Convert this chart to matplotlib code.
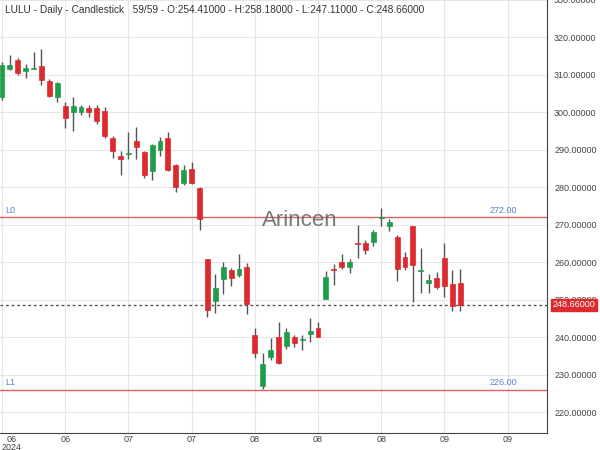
import numpy as np
import matplotlib.pyplot as plt
from matplotlib.patches import Rectangle

plt.rcParams['font.family'] = ['Liberation Sans', 'DejaVu Sans']

# daily OHLC (59 bars)
opens = [304.1, 311.7, 314.0, 311.0, 311.6, 312.4, 308.5, 304.2, 301.7, 300.0,
         300.1, 301.3, 301.2, 300.3, 293.1, 288.3, 288.8, 292.5, 289.4, 284.4,
         290.1, 293.3, 286.0, 281.3, 284.8, 279.8, 260.8, 249.7, 255.5, 257.9,
         256.7, 258.8, 240.5, 227.1, 234.8, 240.0, 237.6, 240.2, 239.2, 240.8,
         242.6, 250.3, 258.2, 260.1, 258.8, 265.2, 265.1, 265.4, 271.8, 269.8,
         266.9, 261.4, 269.7, 257.8, 254.5, 255.9, 261.2, 254.1, 254.41]
highs = [313.5, 315.3, 314.5, 313.0, 316.1, 316.8, 308.9, 308.0, 302.9, 304.1,
         302.1, 302.1, 302.1, 301.4, 293.6, 289.6, 294.9, 296.0, 289.6, 291.7,
         293.4, 294.9, 286.2, 286.0, 286.7, 280.0, 261.0, 256.8, 260.1, 258.6,
         262.1, 259.7, 242.6, 235.7, 239.8, 244.1, 242.6, 240.7, 240.7, 245.2,
         244.1, 257.8, 259.6, 262.3, 261.0, 270.1, 266.0, 268.6, 274.6, 271.7,
         267.3, 262.7, 269.8, 263.8, 256.8, 257.5, 265.1, 257.9, 258.18]
lows = [303.2, 311.3, 309.9, 309.1, 311.6, 307.4, 304.1, 302.8, 295.9, 295.1,
        299.3, 298.8, 296.8, 293.1, 287.9, 283.3, 287.7, 287.5, 282.4, 281.9,
        288.3, 284.4, 278.7, 280.7, 281.0, 268.6, 245.5, 246.6, 251.6, 253.8,
        256.0, 246.1, 234.5, 226.2, 233.9, 232.8, 237.0, 237.3, 236.7, 238.7,
        240.0, 250.3, 254.0, 258.1, 257.1, 261.2, 262.3, 264.3, 269.7, 268.4,
        255.1, 258.0, 249.4, 251.8, 251.8, 252.9, 250.7, 247.0, 247.11]
closes = [312.6, 312.7, 310.5, 311.8, 311.9, 308.7, 304.3, 307.8, 298.4, 301.7,
          301.4, 300.1, 297.7, 293.6, 289.6, 287.7, 289.0, 290.8, 283.3, 291.4,
          292.3, 284.6, 280.0, 284.6, 281.1, 271.7, 247.2, 253.1, 258.8, 255.8,
          258.3, 248.8, 235.7, 233.0, 236.5, 233.2, 241.3, 238.5, 239.4, 241.7,
          240.0, 256.1, 258.0, 258.8, 260.2, 265.0, 263.2, 268.0, 272.0, 270.8,
          258.3, 258.8, 259.4, 258.0, 255.3, 253.5, 253.6, 248.3, 248.66]

tick_labels = ["06\n2024", "06", "07", "07", "08", "08", "08", "09", "09"]
levels = [272.0, 226.0]
level_names = ["L0", "L1"]

GREEN = "#1f9e4a"
RED = "#dc2a2e"

fig = plt.figure(figsize=(6, 4.5), dpi=100)
ax = fig.add_axes([0.0, 0.038, 0.912, 0.962])

x = np.arange(len(opens))
w = 0.62
for i in x:
    o, h, l, c = opens[i], highs[i], lows[i], closes[i]
    col = GREEN if c >= o else RED
    ax.vlines(i, l, h, color="#555555", lw=1, zorder=3)
    lo = min(o, c)
    hgt = max(abs(c - o), 0.25)
    ax.add_patch(Rectangle((i - w / 2, lo), w, hgt, facecolor=col,
                           edgecolor=col, lw=0.5, zorder=4))

# support / resistance lines
for lv, name in zip(levels, level_names):
    ax.axhline(lv, color="#e06060", lw=1, zorder=2)
    ax.text(0.4, lv + 1.2, name, color="#5b7fd6", fontsize=6.5, zorder=5)
    ax.text(65.2, lv + 1.2, "%.2f" % lv, color="#5b7fd6", fontsize=6.5,
            ha="right", zorder=5)

# last close
last = closes[-1]
ax.axhline(last, color="#555555", lw=1, ls=(0, (2, 2)), zorder=2)
ax.text(1.01, last, "%.5f" % last, transform=ax.get_yaxis_transform(),
        color="white", fontsize=6.5, va="center", ha="left",
        bbox=dict(boxstyle="square,pad=0.15", fc=RED, ec=RED), zorder=6,
        clip_on=False)

ax.text(0.01, 0.976, "LULU - Daily - Candlestick   59/59 - O:%.5f - H:%.5f - L:%.5f - C:%.5f"
        % (opens[-1], highs[-1], lows[-1], closes[-1]),
        transform=ax.transAxes, fontsize=7.3, color="#333333", va="center")

ax.text(0.548, 0.49, "Arincen", transform=ax.transAxes, fontsize=16,
        color="#6a6a6a", ha="center", va="center", alpha=0.9, zorder=5)

ax.set_xlim(-0.25, 69.0)
ax.set_ylim(214.5, 328.1)
ax.set_xticks(np.arange(0, 65, 8))
ax.set_xticklabels(tick_labels, linespacing=0.85)
xl = ax.get_xticklabels()
xl[0].set_horizontalalignment("left")
xl[0].set_multialignment("center")
ax.set_yticks(np.arange(220, 331, 10))
ax.set_yticklabels(["%.5f" % v for v in np.arange(220, 331, 10)])
ax.yaxis.tick_right()
ax.tick_params(axis="both", length=0, labelsize=6.5, labelcolor="#444444")
ax.tick_params(axis="x", pad=1.5)
ax.tick_params(axis="y", pad=5)
ax.grid(True, color="#e6e6e6", lw=0.8, zorder=0)
ax.set_axisbelow(True)
for s in ["left", "top"]:
    ax.spines[s].set_visible(False)
for s in ["right", "bottom"]:
    ax.spines[s].set_color("#444444")

fig.savefig("out.png", dpi=100)
